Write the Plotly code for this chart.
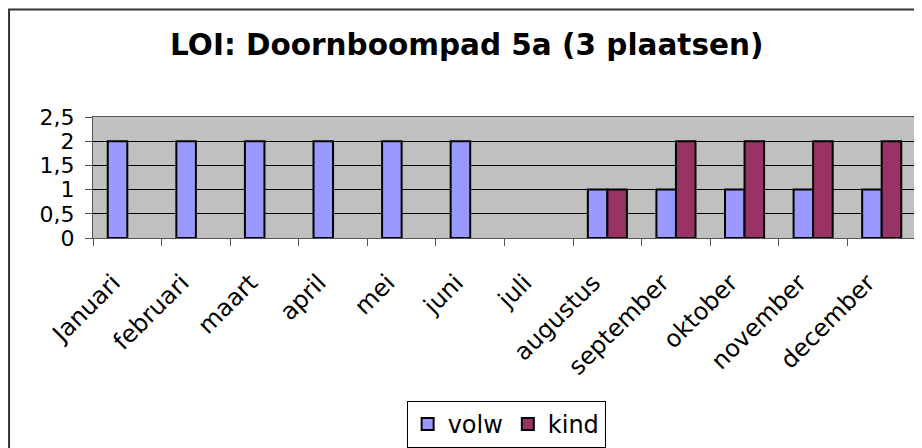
import plotly.graph_objects as go

months = ["Januari", "februari", "maart", "april", "mei", "juni", "juli",
          "augustus", "september", "oktober", "november", "december"]
volw = [2, 2, 2, 2, 2, 2, None, 1, 1, 1, 1, 1]
kind = [None, None, None, None, None, None, None, 1, 2, 2, 2, 2]

font = "Verdana, DejaVu Sans, sans-serif"

fig = go.Figure()
fig.add_trace(go.Bar(x=months, y=volw, name="volw",
                     marker=dict(color="#9999FF", line=dict(color="black", width=2))))
fig.add_trace(go.Bar(x=months, y=kind, name="kind",
                     marker=dict(color="#993366", line=dict(color="black", width=2))))

fig.update_layout(
    width=914, height=440,
    margin=dict(l=85, r=6, t=109, b=210),
    paper_bgcolor="white",
    plot_bgcolor="#C0C0C0",
    barmode="group",
    bargap=0.43,
    bargroupgap=0,
    separators=", ",
    font=dict(family=font, color="black"),
    title=dict(text="<b>LOI: Doornboompad 5a (3 plaatsen)</b>",
               x=0.502, xanchor="center", y=0.916, yanchor="middle",
               font=dict(size=29.5, family=font)),
    xaxis=dict(
        tickangle=-45, tickfont=dict(size=24),
        ticks="outside", tickson="boundaries", ticklen=7, tickcolor="#555",
        ticklabelstandoff=20, ticklabelshift=-14,
        showline=True, linecolor="#555", linewidth=1, mirror=True,
        showgrid=False, automargin=False,
    ),
    yaxis=dict(
        range=[0, 2.5], dtick=0.5, tickfont=dict(size=22),
        ticks="outside", ticklen=7, tickcolor="#555",
        ticklabelstandoff=6,
        showline=True, linecolor="#555", linewidth=1, mirror=True,
        showgrid=True, gridcolor="black", gridwidth=1,
        zeroline=False, automargin=False,
    ),
    showlegend=True,
    legend=dict(orientation="h", xref="container", yref="container",
                x=0.545, xanchor="center", y=0.107, yanchor="top",
                bordercolor="black", borderwidth=1, font=dict(size=24),
                itemwidth=30),
    shapes=[dict(type="rect", xref="paper", yref="paper",
                 x0=-0.102, x1=1.5, y0=-3, y1=1.888,
                 line=dict(color="#333", width=2), fillcolor="rgba(0,0,0,0)", layer="below")],
)

fig.write_html("out.html")
